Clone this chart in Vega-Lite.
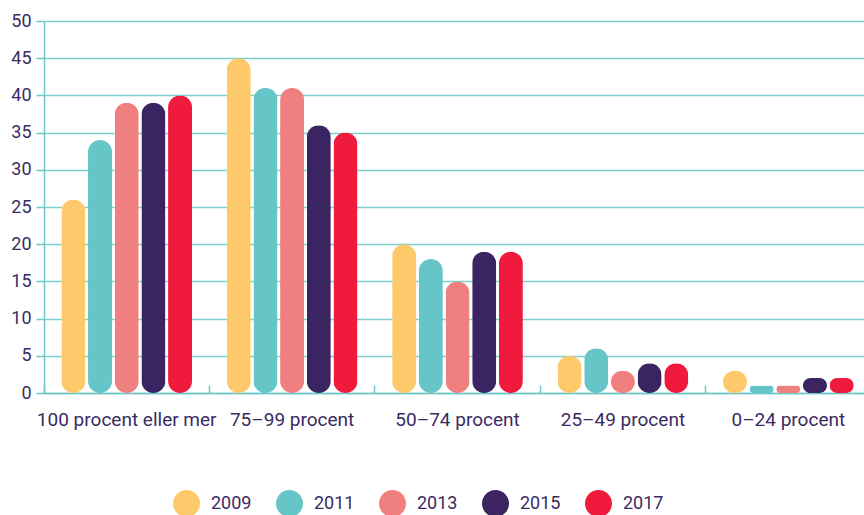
{
  "$schema": "https://vega.github.io/schema/vega-lite/v6.json",
  "width": 827,
  "height": 372,
  "autosize": {"type": "none"},
  "padding": {"left": 44, "top": 21, "right": 0, "bottom": 122},
  "background": "white",
  "config": {
    "view": {"stroke": null},
    "font": "Roboto",
    "axis": {"labelColor": "#3b2b63", "labelFontSize": 18, "labelFont": "Roboto"},
    "legend": {"labelColor": "#3b2b63", "labelFontSize": 18, "labelFont": "Roboto"}
  },
  "data": {
    "values": [
      {"category": "100 procent eller mer", "year": "2009", "value": 26},
      {"category": "100 procent eller mer", "year": "2011", "value": 34},
      {"category": "100 procent eller mer", "year": "2013", "value": 39},
      {"category": "100 procent eller mer", "year": "2015", "value": 39},
      {"category": "100 procent eller mer", "year": "2017", "value": 40},
      {"category": "75–99 procent", "year": "2009", "value": 45},
      {"category": "75–99 procent", "year": "2011", "value": 41},
      {"category": "75–99 procent", "year": "2013", "value": 41},
      {"category": "75–99 procent", "year": "2015", "value": 36},
      {"category": "75–99 procent", "year": "2017", "value": 35},
      {"category": "50–74 procent", "year": "2009", "value": 20},
      {"category": "50–74 procent", "year": "2011", "value": 18},
      {"category": "50–74 procent", "year": "2013", "value": 15},
      {"category": "50–74 procent", "year": "2015", "value": 19},
      {"category": "50–74 procent", "year": "2017", "value": 19},
      {"category": "25–49 procent", "year": "2009", "value": 5},
      {"category": "25–49 procent", "year": "2011", "value": 6},
      {"category": "25–49 procent", "year": "2013", "value": 3},
      {"category": "25–49 procent", "year": "2015", "value": 4},
      {"category": "25–49 procent", "year": "2017", "value": 4},
      {"category": "0–24 procent", "year": "2009", "value": 3},
      {"category": "0–24 procent", "year": "2011", "value": 1},
      {"category": "0–24 procent", "year": "2013", "value": 1},
      {"category": "0–24 procent", "year": "2015", "value": 2},
      {"category": "0–24 procent", "year": "2017", "value": 2}
    ]
  },
  "mark": {"type": "bar", "cornerRadius": 12},
  "encoding": {
    "x": {
      "field": "category",
      "type": "nominal",
      "sort": ["100 procent eller mer", "75–99 procent", "50–74 procent", "25–49 procent", "0–24 procent"],
      "scale": {"paddingInner": 0, "paddingOuter": 0},
      "axis": {
        "title": null,
        "labelAngle": 0,
        "labelFontSize": 19,
        "bandPosition": 0,
        "domainColor": "#6cc6c6",
        "domainWidth": 1.5,
        "tickColor": "#6cc6c6",
        "tickWidth": 1.5,
        "tickSize": -8,
        "labelPadding": 25,
        "grid": false
      }
    },
    "xOffset": {
      "field": "year",
      "type": "nominal",
      "scale": {"paddingInner": 0.1, "paddingOuter": 0.65}
    },
    "y": {
      "field": "value",
      "type": "quantitative",
      "scale": {"domain": [0, 50], "nice": false},
      "axis": {
        "title": null,
        "values": [0, 5, 10, 15, 20, 25, 30, 35, 40, 45, 50],
        "domainColor": "#6cc6c6",
        "domainWidth": 1.5,
        "tickColor": "#6cc6c6",
        "tickWidth": 1.5,
        "tickSize": 8,
        "labelPadding": 5,
        "gridColor": "#7fcfcf",
        "gridWidth": 1.5,
        "gridOpacity": 1
      }
    },
    "color": {
      "field": "year",
      "type": "nominal",
      "scale": {
        "domain": ["2009", "2011", "2013", "2015", "2017"],
        "range": ["#fec96a", "#66c5c6", "#f07f7f", "#3a2462", "#ef1a3c"]
      },
      "legend": {
        "title": null,
        "orient": "none",
        "legendX": 129,
        "legendY": 469,
        "direction": "horizontal",
        "columns": 5,
        "symbolType": "circle",
        "symbolSize": 729,
        "symbolStrokeWidth": 0,
        "labelOffset": 11,
        "columnPadding": 24
      }
    }
  }
}
